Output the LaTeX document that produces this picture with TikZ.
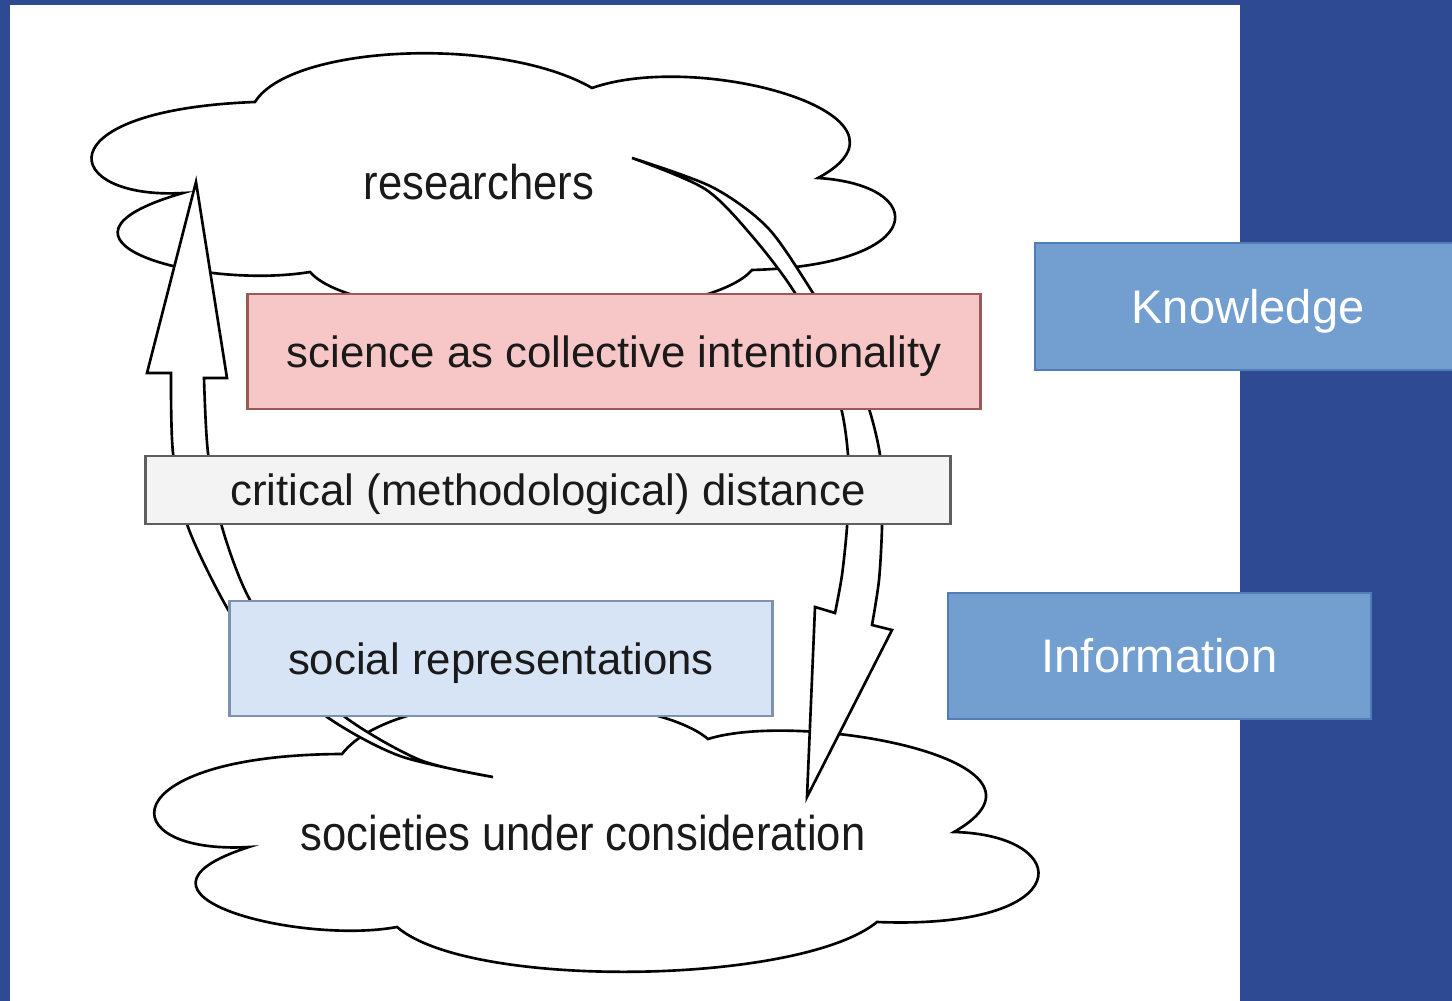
\documentclass[tikz,border=0pt]{standalone}
\usepackage{fontspec}
\setmainfont{Liberation Sans}
\usepackage{graphicx}
\definecolor{bgblue}{HTML}{2E4A93}
\definecolor{kbfill}{HTML}{729FCF}
\definecolor{kbline}{HTML}{4F7DB8}
\definecolor{pinkfill}{HTML}{F7C7C7}
\definecolor{pinkline}{HTML}{9A5A5A}
\definecolor{grayfill}{HTML}{F3F3F3}
\definecolor{grayline}{HTML}{5E5E5E}
\definecolor{lbfill}{HTML}{D6E4F6}
\definecolor{lbline}{HTML}{7C92AE}
\definecolor{ink}{HTML}{1A1A1A}
\tikzset{
  cloudline/.style={draw=black, fill=white, line width=0.75pt},
  blockarrow/.style={draw=black, fill=white, line width=0.75pt, line join=miter},
  conceptbox/.style={rectangle, inner sep=0pt, outer sep=0pt, line width=0.8pt, text=ink,
    text height=9pt, text depth=0pt,
    font=\fontsize{12.45pt}{14pt}\selectfont},
  sidebox/.style={rectangle, inner sep=0pt, outer sep=0pt, fill=kbfill, draw=kbline, line width=0.4pt,
    text height=9.6pt, text depth=0pt,
    text=white, font=\fontsize{13.4pt}{15pt}\selectfont},
  cloudtext/.style={inner sep=0pt, text=ink, font=\fontsize{12.4pt}{14pt}\selectfont}
}
\begin{document}
\begin{tikzpicture}[x=0.01cm,y=-0.01cm]
\useasboundingbox (0,0) rectangle (1452,1001);
\clip (0,0) rectangle (1452,1001);
% background
\fill[bgblue] (0,0) rectangle (1452,1001);
\fill[white] (10,5) rectangle (1240,1001);

% top cloud
\path[cloudline] (255,102)
  .. controls (290,45) and (500,35) .. (592,88)
  .. controls (700,50) and (935,115) .. (818,178)
  .. controls (930,185) and (930,265) .. (752,270)
  .. controls (700,330) and (360,330) .. (310,272)
  .. controls (200,290) and (20,240) .. (183,193)
  .. controls (60,200) and (40,110) .. (255,102) -- cycle;

% bottom cloud
\path[cloudline] (342,754)
  .. controls (400,680) and (650,690) .. (708,739)
  .. controls (800,710) and (1080,760) .. (954,832)
  .. controls (1075,835) and (1080,930) .. (877,922)
  .. controls (800,985) and (470,990) .. (397,927)
  .. controls (300,945) and (100,895) .. (249,847)
  .. controls (110,855) and (110,755) .. (342,754) -- cycle;

% left (upward) block arrow
\path[blockarrow] plot[smooth] coordinates {(493,777) (400,756) (327,717) (270,665) (230,613) (188,527) (173,453) (171,373)}
  -- (147,373) -- (196,182) -- (227,378) -- (204,378)
  -- plot[smooth] coordinates {(204,378) (208,453) (222,527) (250,600) (300,668) (345,717) (420,760) (493,777)} -- cycle;

% right (downward) block arrow
\path[blockarrow] plot[smooth] coordinates {(632,158) (705,189) (752,236) (795,293) (825,355) (842,412) (848,455) (848,490) (847,527) (842,575) (835,613)}
  -- (815,607) -- (807,797) -- (892,630) -- (872,625)
  -- plot[smooth] coordinates {(872,625) (879,580) (882,527) (881,490) (880,455) (870,412) (848,350) (813,293) (768,228) (712,187) (632,158)} -- cycle;

% cloud texts
\node[cloudtext] (researchers) at (479,182) {\scalebox{1}[1.12]{researchers}};
\node[cloudtext] (societies) at (583,833) {\scalebox{1}[1.12]{societies under consideration}};

% concept boxes
\node[conceptbox, fill=pinkfill, draw=pinkline, minimum width=7.32cm, minimum height=1.15cm] (science) at (614,351.5) {science as collective intentionality};
\node[conceptbox, fill=grayfill, draw=grayline, minimum width=8.04cm, minimum height=0.68cm] (distance) at (548,490) {critical (methodological) distance};
\node[conceptbox, fill=lbfill, draw=lbline, minimum width=5.42cm, minimum height=1.15cm] (socrep) at (501,658.5) {social representations};

% side boxes
\node[sidebox, minimum width=4.26cm, minimum height=1.27cm] (knowledge) at (1248,306.5) {Knowledge};
\node[sidebox, minimum width=4.23cm, minimum height=1.26cm] (information) at (1159.5,656) {Information};
\end{tikzpicture}
\end{document}
